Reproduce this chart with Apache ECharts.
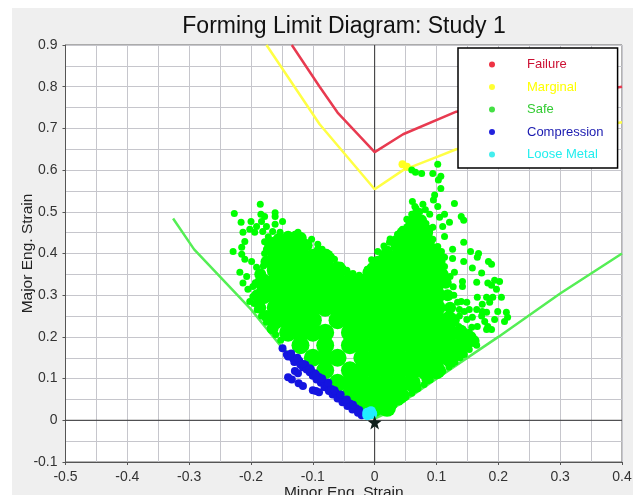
<!DOCTYPE html>
<html><head><meta charset="utf-8">
<style>
html,body{margin:0;padding:0;background:#fff;width:633px;height:495px;overflow:hidden}
#panel{position:absolute;left:12px;top:8px;right:0;bottom:0;background:#efefef}
#chart{position:absolute;left:0;top:0;width:633px;height:495px}
</style>
<script src="https://cdn.jsdelivr.net/npm/echarts@6/dist/echarts.min.js"></script>
</head><body><div id="panel"></div><div id="chart"></div>
<script>
const xTicks = {min:-0.5,max:0.4,step:0.1};
const yTicks = {min:-0.1,max:0.9,step:0.1};
const legendNames = ['Failure','Marginal','Safe','Compression','Loose Metal'];
const failureCurve = [[-0.134,0.9],[-0.089,0.8],[-0.06,0.738],[0,0.643],[0.046,0.686],[0.132,0.74],[0.4,0.8]];
const marginalCurve = [[-0.175,0.9],[-0.089,0.71],[0,0.554],[0.046,0.6],[0.103,0.633],[0.132,0.65],[0.4,0.715]];
const safeCurve = [[-0.326,0.484],[-0.292,0.41],[-0.2,0.266],[-0.153,0.18],[-0.1,0.105],[-0.05,0.05],[0,0.004],[0.02,0.018],[0.1,0.1],[0.2,0.2],[0.3,0.304],[0.4,0.4]];
// dense body of the Safe cloud: [major strain, [minor strain ...]]
const safeBodyRows = [
 [0.03,[-0.02,0,0.02]],
 [0.06,[-0.04,-0.02,0,0.02,0.04]],
 [0.09,[-0.06,-0.04,-0.02,0,0.02,0.04,0.06]],
 [0.12,[-0.08,-0.04,-0.02,0,0.02,0.04,0.06,0.08,0.1]],
 [0.15,[-0.1,-0.08,-0.06,-0.02,0,0.02,0.04,0.06,0.08,0.1,0.12]],
 [0.18,[-0.12,-0.08,-0.04,-0.02,0,0.02,0.04,0.06,0.08,0.1,0.12]],
 [0.21,[-0.14,-0.12,-0.1,-0.08,-0.04,-0.02,0,0.02,0.04,0.06,0.08,0.1,0.12]],
 [0.24,[-0.16,-0.14,-0.12,-0.1,-0.06,-0.04,-0.02,0,0.02,0.04,0.06,0.08,0.1,0.12]],
 [0.27,[-0.16,-0.14,-0.12,-0.1,-0.08,-0.06,-0.04,-0.02,0,0.02,0.04,0.06,0.08,0.1]],
 [0.30,[-0.18,-0.16,-0.14,-0.12,-0.1,-0.08,-0.06,-0.04,-0.02,0,0.02,0.04,0.06,0.08,0.1]],
 [0.33,[-0.18,-0.16,-0.14,-0.12,-0.1,-0.08,-0.06,-0.04,-0.02,0,0.02,0.04,0.06,0.08,0.1]],
 [0.36,[-0.16,-0.14,-0.12,-0.1,-0.08,-0.06,0,0.02,0.04,0.06,0.08,0.1]],
 [0.39,[-0.16,-0.14,-0.12,-0.1,-0.08,0.02,0.04,0.06,0.08,0.1]],
 [0.42,[-0.16,-0.14,-0.12,0.04,0.06,0.08]],
 [0.45,[0.06,0.08]]
];
// edge filling of the body
const safeEdge = [
 [0.018,0.03],[0.028,0.04],[0.047,0.06],[0.066,0.08],[0.085,0.1],[0.104,0.12],[0.123,0.14],[0.138,0.16],
 [-0.13,0.432],[-0.11,0.42],[-0.09,0.405],[-0.075,0.385],[-0.055,0.362],[-0.04,0.345],[-0.02,0.335],[-0.01,0.355],[0.005,0.38],[0.02,0.405],[0.035,0.43],
 [-0.165,0.22],[-0.175,0.25],[-0.185,0.27],[-0.19,0.3],[-0.185,0.35],[-0.175,0.38],[-0.17,0.41],
 [0.13,0.18],[0.13,0.21],[0.128,0.24],[0.122,0.27],[0.118,0.3],[0.115,0.33],[0.11,0.35],[0.105,0.38],[0.095,0.41],[0.088,0.43],
 [0.05,0.44],[0.07,0.46],[0.055,0.46],[0.06,0.475],[0.065,0.49],[0.075,0.48],[0.085,0.455],[0.045,0.45],
 [0.14,0.17],[0.15,0.185],[0.145,0.2],[0.14,0.215],[0.155,0.2],[0.16,0.19],
 [-0.17,0.425],[-0.155,0.435],[-0.14,0.44],[-0.12,0.438]
];
const safeDots = [
 [-0.185,0.518],[-0.227,0.496],[-0.216,0.475],[-0.2,0.477],[-0.161,0.498],[-0.161,0.489],[-0.184,0.494],[-0.178,0.489],[-0.183,0.477],[-0.175,0.465],[-0.149,0.477],[-0.161,0.47],[-0.213,0.451],[-0.202,0.458],[-0.191,0.465],[-0.181,0.453],[-0.194,0.451],[-0.165,0.453],[-0.153,0.451],[-0.14,0.439],[-0.124,0.451],[-0.129,0.446],[-0.116,0.439],[-0.102,0.434],[-0.092,0.422],[-0.078,0.403],[-0.065,0.386],[-0.21,0.429],[-0.215,0.415],[-0.229,0.405],[-0.215,0.398],[-0.21,0.386],[-0.199,0.381],[-0.191,0.367],[-0.218,0.355],[-0.207,0.345],[-0.213,0.329],[-0.197,0.321],[-0.205,0.314],[-0.197,0.297],[-0.191,0.283],[-0.202,0.285],
 [-0.172,0.44],[-0.178,0.428],[-0.165,0.43],[-0.15,0.435],[-0.13,0.432],[-0.11,0.425],[-0.085,0.41],[-0.07,0.392],[-0.055,0.372],[-0.045,0.36],[-0.035,0.352],[-0.025,0.348],[-0.012,0.362],[-0.005,0.385],[0.005,0.405],[0.015,0.418],[0.025,0.435],
 [0.102,0.614],[0.06,0.6],[0.066,0.595],[0.076,0.592],[0.094,0.592],[0.107,0.585],[0.103,0.576],[0.107,0.556],[0.097,0.54],[0.095,0.528],[0.102,0.513],[0.129,0.52],[0.061,0.525],[0.065,0.513],[0.078,0.518],[0.073,0.501],[0.06,0.494],[0.052,0.482],[0.089,0.494],[0.113,0.494],[0.105,0.487],[0.121,0.475],[0.14,0.489],[0.144,0.48],[0.11,0.465],[0.094,0.463],[0.113,0.441],[0.144,0.427],[0.126,0.41],[0.155,0.405],[0.168,0.4],[0.166,0.391],[0.126,0.388],[0.144,0.381],[0.184,0.381],[0.189,0.374],[0.158,0.365],[0.173,0.353],[0.129,0.355],
 [0.045,0.458],[0.037,0.446],[0.024,0.427],[0.061,0.47],[0.073,0.477],[0.057,0.453],[0.068,0.451],[0.084,0.441],[0.094,0.434],[0.102,0.417],[0.078,0.417],[0.06,0.424],[0.045,0.427],[0.07,0.41],[0.089,0.403],[0.108,0.405],[0.113,0.391],[0.057,0.393],[0.04,0.403],[0.084,0.386],[0.1,0.374],[0.113,0.369],[0.067,0.508],[0.07,0.49],[0.082,0.505],[0.058,0.48],[0.083,0.472],[0.066,0.462],
 [0.142,0.333],[0.142,0.321],[0.165,0.331],[0.183,0.329],[0.189,0.324],[0.194,0.336],[0.202,0.333],[0.197,0.314],[0.205,0.295],[0.14,0.285],[0.149,0.283],[0.166,0.295],[0.181,0.295],[0.191,0.295],[0.174,0.278],[0.186,0.283],[0.165,0.266],[0.153,0.266],[0.145,0.261],[0.174,0.261],[0.213,0.259],[0.215,0.247],[0.21,0.237],[0.194,0.242],[0.178,0.237],[0.183,0.225],[0.181,0.218],[0.189,0.218],[0.166,0.225],[0.157,0.223],[0.153,0.211],[0.145,0.213],[0.158,0.194],[0.15,0.189],[0.165,0.18],[0.142,0.177],[0.145,0.158],[0.153,0.17],[0.137,0.189],[0.132,0.201],[0.134,0.283],[0.137,0.266],[0.137,0.25],[0.149,0.242],[0.158,0.247],[0.173,0.25],[0.181,0.259],[0.199,0.261],[0.128,0.3],[0.127,0.32],[0.122,0.345],[0.136,0.225],[0.13,0.175],
 [0.02,0.024],[0.03,0.034],[0.04,0.044],[0.05,0.055],[0.06,0.065],[0.07,0.076],[0.08,0.086],[0.09,0.097],[0.1,0.107],[0.11,0.118],[0.12,0.128],[0.13,0.14],[0.138,0.15],
 [-0.152,0.192],[-0.16,0.205],[-0.168,0.22],[-0.175,0.235],[-0.183,0.25],[-0.19,0.265],[-0.195,0.28],[-0.19,0.3],[-0.193,0.33],[-0.185,0.35],[-0.18,0.37],[-0.178,0.4],[-0.175,0.41]
];
const compressionDots = [
 [-0.149,0.173],[-0.142,0.158],[-0.14,0.153],[-0.135,0.155],[-0.132,0.148],[-0.126,0.141],[-0.13,0.14],[-0.122,0.143],[-0.12,0.133],[-0.116,0.127],[-0.112,0.133],[-0.11,0.122],[-0.105,0.115],[-0.103,0.122],[-0.1,0.107],[-0.097,0.113],[-0.094,0.098],[-0.09,0.104],[-0.087,0.09],[-0.084,0.095],[-0.081,0.079],[-0.077,0.085],[-0.074,0.07],[-0.07,0.075],[-0.068,0.062],[-0.063,0.066],[-0.06,0.052],[-0.056,0.057],[-0.052,0.043],[-0.047,0.048],[-0.044,0.034],[-0.04,0.04],[-0.036,0.026],[-0.03,0.029],[-0.027,0.018],[-0.021,0.012],
 [-0.135,0.16],[-0.125,0.15],[-0.115,0.135],[-0.105,0.125],[-0.095,0.11],[-0.085,0.1],[-0.075,0.09],[-0.065,0.072],[-0.055,0.062],[-0.045,0.05],[-0.035,0.037],[-0.025,0.025],
 [-0.129,0.118],[-0.124,0.113],[-0.14,0.103],[-0.134,0.098],[-0.123,0.089],[-0.116,0.082],[-0.1,0.072],[-0.09,0.067],[-0.095,0.07]
];
const looseMetalDots = [[-0.012,0.012],[-0.008,0.014],[-0.004,0.016],[-0.006,0.022],[-0.012,0.018]];
const marginalDots = [[0.045,0.614],[0.052,0.608]];
const originMark = [[0,-0.005]];
const zeroLineX = [[-0.5,0],[0.4,0]];
const zeroLineY = [[0,-0.1],[0,0.9]];

const safeBody = [];
safeBodyRows.forEach(r => r[1].forEach(x => safeBody.push([x,r[0]])));
const starPath = 'path://M50 0 L62 35 L100 38 L70 60 L81 97 L50 75 L19 97 L30 60 L0 38 L38 35 Z';
const grey = '#c6c6cc';
const chart = echarts.init(document.getElementById('chart'),null,{renderer:'canvas'});
const axisCommon = {
  type:'value',
  axisLine:{show:true,onZero:false,lineStyle:{color:'#555',width:1}},
  axisTick:{show:true,length:3,lineStyle:{color:'#555'}},
  axisLabel:{color:'#333',fontFamily:'Liberation Sans, Arial',fontSize:14},
  splitLine:{show:true,lineStyle:{color:grey,width:1}},
  minorTick:{show:false,splitNumber:2},
  minorSplitLine:{show:true,lineStyle:{color:grey,width:1}},
  nameLocation:'middle',
  nameMoveOverlap:false,
  nameTextStyle:{color:'#222',fontFamily:'Liberation Sans, Arial',fontSize:15.5}
};
const lineS = (name,data,color,z) => ({name,type:'line',data,symbol:'none',silent:true,z,
  lineStyle:{color,width:2.5},itemStyle:{color},animation:false});
const dotS = (name,data,color,size,z) => ({name,type:'scatter',data,symbolSize:size,silent:true,z,
  itemStyle:{color,opacity:1},animation:false});
const legendText = c => ({color:c,padding:[0,0,0,27]});
chart.setOption({
  animation:false,
  backgroundColor:'transparent',
  title:{text:'Forming Limit Diagram: Study 1',left:339,top:10,textAlign:'center',
    textStyle:{fontFamily:'Liberation Sans, Arial',fontSize:23,fontWeight:'normal',color:'#111'}},
  grid:{left:65.5,right:11,top:45,bottom:33,show:true,backgroundColor:'#fff',borderColor:'#666',borderWidth:1,outerBoundsMode:'none'},
  xAxis:Object.assign({},axisCommon,{min:xTicks.min,max:xTicks.max,interval:xTicks.step,
    name:'Minor Eng. Strain',nameGap:23}),
  yAxis:Object.assign({},axisCommon,{min:yTicks.min,max:yTicks.max,interval:yTicks.step,
    name:'Major Eng. Strain',nameGap:30}),
  legend:{orient:'vertical',left:458,top:48,z:20,
    backgroundColor:'#fff',borderColor:'#000',borderWidth:1.5,borderRadius:0,
    padding:[10,14,7,31],itemWidth:6,itemHeight:6,itemGap:9.5,selectedMode:false,
    textStyle:{fontFamily:'Liberation Sans, Arial',fontSize:13},
    data:[
     {name:legendNames[0],icon:'circle',itemStyle:{color:'#ee3344'},textStyle:legendText('#cc1133')},
     {name:legendNames[1],icon:'circle',itemStyle:{color:'#ffff33'},textStyle:legendText('#ffff00')},
     {name:legendNames[2],icon:'circle',itemStyle:{color:'#44e044'},textStyle:legendText('#33cc33')},
     {name:legendNames[3],icon:'circle',itemStyle:{color:'#2222dd'},textStyle:legendText('#1a1ab0')},
     {name:legendNames[4],icon:'circle',itemStyle:{color:'#44eeee'},textStyle:legendText('#22eeee')}
    ]},
  series:[
    lineS('zero-x',zeroLineX,'#333',2),
    lineS('zero-y',zeroLineY,'#333',2),
    lineS('Failure',failureCurve,'#e83a50',3),
    lineS('Marginal',marginalCurve,'#ffff44',3),
    lineS('Safe',safeCurve,'#55ee55',3),
    dotS('Marginal',marginalDots,'#ffff22',8,4),
    dotS('Safe',safeBody,'#00ff00',18,4),
    dotS('Safe',safeEdge,'#00ff00',12,4),
    dotS('Safe',safeDots,'#00ff00',7,4),
    dotS('Compression',compressionDots,'#1414e0',8,5),
    dotS('Loose Metal',looseMetalDots,'#22eeff',10,6),
    dotS('Origin',originMark,'#10201c',7,7)
  ].map(s => s.name==='Origin' ? Object.assign(s,{symbol:starPath,symbolSize:14}) : s)
    .map(s => s.name.indexOf('zero')===0 ? Object.assign(s,{lineStyle:{color:'#333',width:1}}) : s)
});
</script></body></html>
